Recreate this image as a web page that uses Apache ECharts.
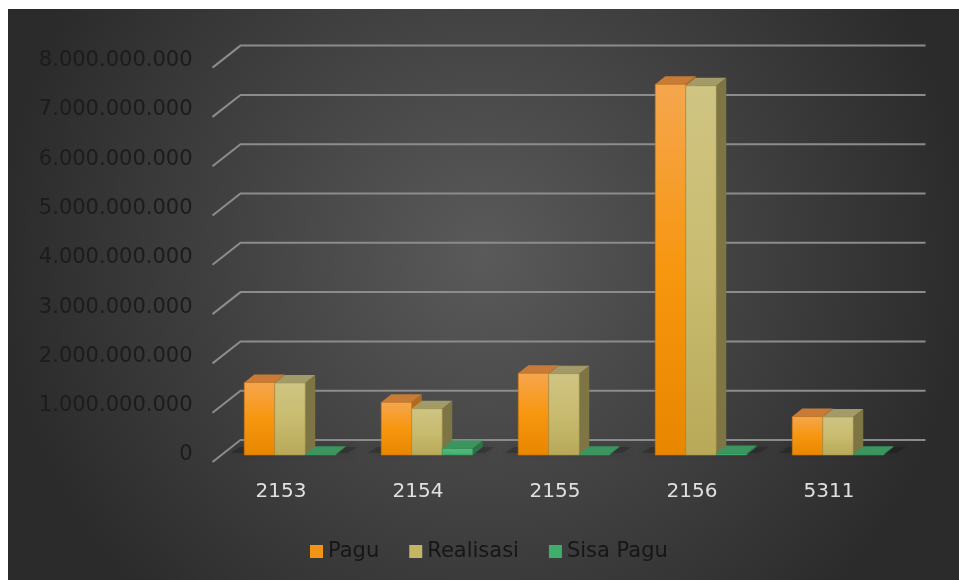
<!DOCTYPE html>
<html><head><meta charset="utf-8">
<script src="https://cdn.jsdelivr.net/npm/echarts@6/dist/echarts.min.js"></script>
<style>html,body{margin:0;padding:0;background:#fff;overflow:hidden}#c{position:absolute;left:8px;top:9px;width:951px;height:571px;}</style>
</head><body><div id="c"></div>
<script>
// ---- data ----
const categories = ['2153', '2154', '2155', '2156', '5311'];
const pagu       = [1.47e9, 1.07e9, 1.66e9, 7.52e9, 0.78e9];
const realisasi  = [1.46e9, 0.94e9, 1.65e9, 7.49e9, 0.77e9];
const sisaPagu   = [0.01e9, 0.13e9, 0.01e9, 0.03e9, 0.01e9];
const yTicks     = [0, 1e9, 2e9, 3e9, 4e9, 5e9, 6e9, 7e9, 8e9];
const yTickLabels = ['0', '1.000.000.000', '2.000.000.000', '3.000.000.000', '4.000.000.000',
  '5.000.000.000', '6.000.000.000', '7.000.000.000', '8.000.000.000'];

const FONT = 'DejaVu Sans';
const chart = echarts.init(document.getElementById('c'));
const G = echarts.graphic;

function vgrad(a, b, c) {
  const stops = c ? [{offset:0,color:a},{offset:0.5,color:b},{offset:1,color:c}]
                  : [{offset:0,color:a},{offset:1,color:b}];
  return new G.LinearGradient(0, 0, 0, 1, stops);
}

const styles = [
  { legend: '#f39415', front: () => vgrad('#f5a64e', '#f7960f', '#e98600'), top: '#c77b36', side: '#b5691c', edge: '#c97410' },
  { legend: '#c3b564', front: () => vgrad('#cfc482', '#c9bc70', '#b8a958'), top: '#a39b67', side: '#7d7543', edge: '#a39550' },
  { legend: '#3fae6a', front: () => vgrad('#4fbf7c', '#44ad6d'), top: '#3b955f', side: '#2c7448', edge: '#358e57' }
];

function barSeries(name, data, idx) {
  const st = styles[idx];
  return {
    type: 'custom', name: name,
    data: data.map((v, i) => [i, v]),
    encode: { x: 0, y: 1 },
    itemStyle: { color: st.legend },
    z: 3 + idx,
    renderItem: function (params, api) {
      const ci = api.value(0), v = api.value(1);
      const base = api.coord([ci, 0]);
      const topP = api.coord([ci, v]);
      const band = api.size([1, 0])[0];
      const w = band * 0.2226;
      const dx = 10, dy = 8;
      const x0 = base[0] - 1.5 * w + idx * w;
      const yb = base[1];
      const yt = Math.min(topP[1], yb - 0.8);
      const children = [];
      if (idx === 0) {
        children.push({
          type: 'polygon',
          shape: { points: [[x0 - 14, yb - 2], [x0 + 3 * w + 12, yb - 2], [x0 + 3 * w + 12 + dx, yb - dy], [x0 - 14 + dx, yb - dy]] },
          style: { fill: 'rgba(0,0,0,0.18)', shadowBlur: 10, shadowColor: 'rgba(0,0,0,0.8)' },
          silent: true
        });
      }
      children.push({
        type: 'polygon',
        shape: { points: [[x0 + w, yt], [x0 + w + dx, yt - dy], [x0 + w + dx, yb - dy], [x0 + w, yb]] },
        style: { fill: st.side }
      });
      children.push({
        type: 'polygon',
        shape: { points: [[x0, yt], [x0 + w, yt], [x0 + w + dx, yt - dy], [x0 + dx, yt - dy]] },
        style: { fill: st.top }
      });
      children.push({
        type: 'rect',
        shape: { x: x0, y: yt, width: w, height: yb - yt },
        style: { fill: st.front(), stroke: st.edge, lineWidth: 0.6 }
      });
      return { type: 'group', children: children };
    }
  };
}

const gridSeries = {
  type: 'custom', name: 'grid3d', silent: true, z: 1,
  data: yTicks.map(v => [0, v]),
  encode: { x: 0, y: 1 },
  renderItem: function (params, api) {
    const y = api.coord([0, api.value(1)])[1];
    const cs = params.coordSys;
    return {
      type: 'polyline',
      shape: { points: [[cs.x - 9, y + 7], [cs.x + 19, y - 15], [cs.x + cs.width + 19, y - 15]] },
      style: { stroke: '#8c8c8c', lineWidth: 2, fill: null }
    };
  }
};

chart.setOption({
  animation: false,
  backgroundColor: new G.RadialGradient(0.5, 0.43, 0.85, [
    { offset: 0, color: '#5a5a5a' }, { offset: 1, color: '#2b2b2b' }
  ]),
  grid: { left: 213.5, right: 52.5, top: 51.6, bottom: 125 },
  legend: {
    data: ['Pagu', 'Realisasi', 'Sisa Pagu'],
    left: 297, top: 527,
    icon: 'rect', itemWidth: 13, itemHeight: 13, itemGap: 30,
    textStyle: { fontFamily: FONT, fontSize: 21, color: '#161616' }
  },
  xAxis: {
    type: 'category', data: categories,
    axisLine: { show: false }, axisTick: { show: false }, splitLine: { show: false },
    axisLabel: { margin: 27, padding: [0, 18, 0, 0], color: '#e0e0e0', fontFamily: FONT, fontSize: 20 }
  },
  yAxis: {
    type: 'value', min: 0, max: 8e9, interval: 1e9,
    axisLine: { show: false }, axisTick: { show: false }, splitLine: { show: false },
    axisLabel: {
      margin: 29, padding: [14, 0, 0, 0], color: '#1c1c1c', fontFamily: FONT, fontSize: 21,
      formatter: function (v) { const i = yTicks.indexOf(v); return i >= 0 ? yTickLabels[i] : ''; }
    }
  },
  series: [
    gridSeries,
    barSeries('Pagu', pagu, 0),
    barSeries('Realisasi', realisasi, 1),
    barSeries('Sisa Pagu', sisaPagu, 2)
  ]
});
</script></body></html>
